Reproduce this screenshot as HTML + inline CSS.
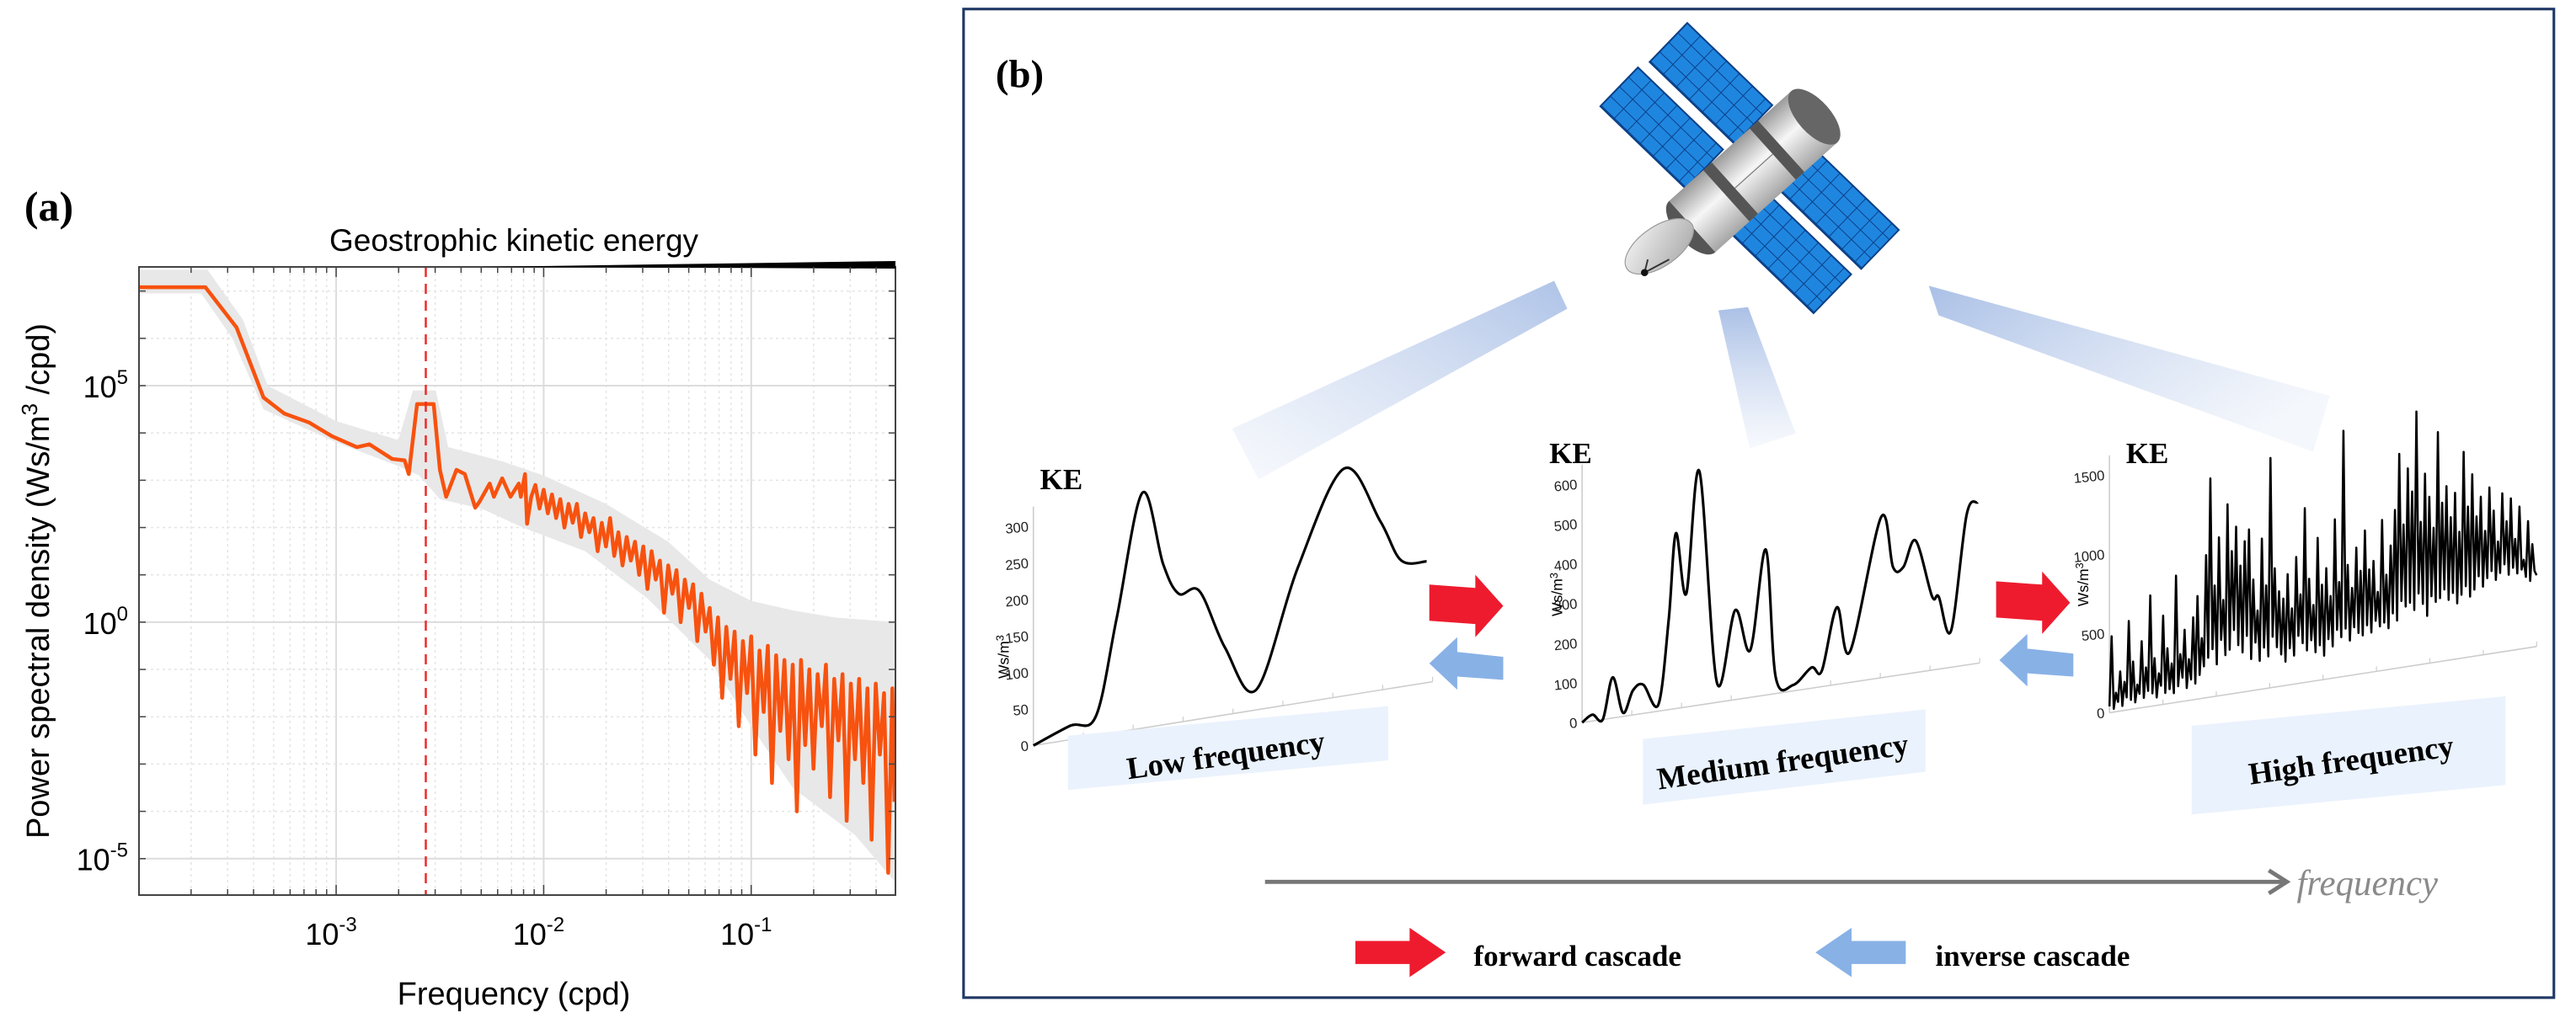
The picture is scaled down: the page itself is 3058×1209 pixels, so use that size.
<!DOCTYPE html>
<html><head><meta charset="utf-8"><style>
html,body{margin:0;padding:0;background:#fff;}
svg{display:block;}
</style></head><body>
<svg id="fig" xmlns="http://www.w3.org/2000/svg" width="3058" height="1209" viewBox="0 0 3058 1209">
<defs>
<linearGradient id="beamL" x1="0" y1="1" x2="1" y2="0"><stop offset="0" stop-color="#c9d7ef" stop-opacity="0.15"/><stop offset="1" stop-color="#aac0e6" stop-opacity="0.95"/></linearGradient>
<linearGradient id="beamM" x1="0" y1="0" x2="0" y2="1"><stop offset="0" stop-color="#aac0e6"/><stop offset="1" stop-color="#c9d7ef" stop-opacity="0.15"/></linearGradient>
<linearGradient id="beamR" x1="0" y1="0" x2="1" y2="0.6"><stop offset="0" stop-color="#aac0e6"/><stop offset="1" stop-color="#c9d7ef" stop-opacity="0.2"/></linearGradient>
<linearGradient id="bodyG" x1="0" y1="0" x2="0" y2="1"><stop offset="0" stop-color="#9a9a9a"/><stop offset="0.45" stop-color="#f6f6f6"/><stop offset="1" stop-color="#a5a5a5"/></linearGradient>
<linearGradient id="dishG" x1="0" y1="0" x2="1" y2="1"><stop offset="0" stop-color="#f4f4f4"/><stop offset="1" stop-color="#a8a8a8"/></linearGradient>
<pattern id="cells" width="11" height="8" patternUnits="userSpaceOnUse"><rect width="11" height="8" fill="#1f86e0"/><path d="M0 0H11M0 0V8" stroke="#0b3f86" stroke-width="1"/></pattern>
</defs>

<!-- PANEL A -->
<g id="panelA">
<text x="58" y="262" font-family="Liberation Serif, serif" font-weight="bold" font-size="50" text-anchor="middle">(a)</text>
<text x="610" y="298" font-family="Liberation Sans, sans-serif" font-size="37" text-anchor="middle">Geostrophic kinetic energy</text>
<g id="gridA"></g>
<g id="bandA"></g>
<g id="lineA"></g>
<g id="axesA"></g>
<text transform="translate(58,690) rotate(-90)" font-family="Liberation Sans, sans-serif" font-size="38" text-anchor="middle">Power spectral density (Ws/m<tspan dy="-14" font-size="26">3</tspan><tspan dy="14"> /cpd)</tspan></text>
<text x="610" y="1193" font-family="Liberation Sans, sans-serif" font-size="38" text-anchor="middle">Frequency (cpd)</text>
</g>

<!-- PANEL B -->
<g id="panelB" transform="scale(1.9503)">
<rect x="586.5" y="5.5" width="968" height="602" fill="none" stroke="#203864" stroke-width="1.6"/>
<text x="606" y="53" font-family="Liberation Serif, serif" font-weight="bold" font-size="24">(b)</text>

<polygon points="750,261 766,292 954,188 946,171" fill="url(#beamL)"/>
<polygon points="1046,189 1064,187 1093,264 1065,273" fill="url(#beamM)"/>
<polygon points="1174,174 1180,192 1408,275 1418,241" fill="url(#beamR)"/>

<g id="satellite">
 <g transform="translate(1027,14) rotate(44)"><rect width="72" height="33" fill="url(#cells)" stroke="#0b3f86"/></g>
 <g transform="translate(997,41) rotate(44)"><rect width="72" height="33" fill="url(#cells)" stroke="#0b3f86"/></g>
 <g transform="translate(1104,90) rotate(44)"><rect width="72" height="33" fill="url(#cells)" stroke="#0b3f86"/></g>
 <g transform="translate(1075,117) rotate(44)"><rect width="72" height="33" fill="url(#cells)" stroke="#0b3f86"/></g>
 <g transform="translate(1030,138) rotate(-42)">
  <ellipse cx="0" cy="0" rx="10" ry="21" fill="#555"/>
  <rect x="0" y="-21" width="100" height="42" fill="url(#bodyG)"/>
  <rect x="28" y="-21" width="7" height="42" fill="#555"/>
  <rect x="66" y="-21" width="7" height="42" fill="#555"/>
  <line x1="35" y1="0" x2="66" y2="0" stroke="#777" stroke-width="0.6"/>
  <ellipse cx="100" cy="0" rx="10" ry="21" fill="#666"/>
 </g>
 <g transform="translate(1010,150) rotate(-35)">
  <ellipse cx="0" cy="0" rx="24" ry="12" fill="url(#dishG)" stroke="#999" stroke-width="0.6"/>
 </g>
 <line x1="1003" y1="158" x2="1001" y2="166" stroke="#333" stroke-width="1"/>
 <line x1="1016" y1="158" x2="1001" y2="166" stroke="#333" stroke-width="1"/>
 <circle cx="1001" cy="166" r="2.2" fill="#111"/>
</g>

<g id="miniCharts"></g>

<polygon points="650,448 845,430 845,463 650,481" fill="#eaf2fd"/>
<text transform="translate(747,466) rotate(-8)" font-family="Liberation Serif, serif" font-weight="bold" font-size="19" text-anchor="middle">Low frequency</text>
<polygon points="1000,450 1172,432 1172,470 1000,490" fill="#eaf2fd"/>
<text transform="translate(1086,470) rotate(-8)" font-family="Liberation Serif, serif" font-weight="bold" font-size="19" text-anchor="middle">Medium frequency</text>
<polygon points="1334,442 1525,424 1525,478 1334,496" fill="#eaf2fd"/>
<text transform="translate(1432,469) rotate(-8)" font-family="Liberation Serif, serif" font-weight="bold" font-size="19" text-anchor="middle">High frequency</text>

<g><polygon points="870,356 898,358 898,350 915,369 898,388 898,380 870,378" fill="#ee1b2e"/></g>
<g><polygon points="915,400 887,397 887,388 870,404 887,420 887,412 915,414" fill="#88b1e6"/></g>
<g><polygon points="1215,354 1243,356 1243,348 1260,367 1243,386 1243,378 1215,376" fill="#ee1b2e"/></g>
<g><polygon points="1262,398 1234,395 1234,386 1217,402 1234,418 1234,410 1262,412" fill="#88b1e6"/></g>

<g>
 <line x1="770" y1="537" x2="1390" y2="537" stroke="#777" stroke-width="2.5"/>
 <polyline points="1381,530 1392,537 1381,544" fill="none" stroke="#777" stroke-width="2.5"/>
</g>
<text x="1398" y="545" font-family="Liberation Serif, serif" font-style="italic" font-size="22" fill="#8a8a8a">frequency</text>

<g>
 <polygon points="825,573 858,573 858,565 880,580 858,595 858,587 825,587" fill="#ee1b2e"/>
 <text x="897" y="588" font-family="Liberation Serif, serif" font-weight="bold" font-size="18">forward cascade</text>
 <polygon points="1160,573 1127,573 1127,565 1105,580 1127,595 1127,587 1160,587" fill="#88b1e6"/>
 <text x="1178" y="588" font-family="Liberation Serif, serif" font-weight="bold" font-size="18">inverse cascade</text>
</g>
</g>
</svg>
<script>
// ---------- Panel (a) data: log10 values ----------
const psdFreqExp = [-3.95,-3.63,-3.48,-3.35,-3.25,-3.13,-3.02,-2.90,-2.84,-2.73,-2.67,-2.65,-2.61,-2.53,-2.50,-2.47,-2.42,-2.38,-2.33,-2.31,-2.26,-2.24,-2.20,-2.16,-2.12,-2.11,-2.09,-2.08,-2.06,
-2.04,-2.02,-2.00,-1.98,-1.96,-1.94,-1.92,-1.90,-1.88,-1.86,-1.84,-1.82,-1.80,-1.78,-1.76,-1.74,-1.72,-1.70,-1.68,-1.66,-1.64,-1.62,-1.60,-1.58,-1.56,-1.54,-1.52,-1.50,-1.48,-1.46,-1.44,-1.42,-1.40,-1.38,-1.36,-1.34,-1.32,-1.30,-1.28,-1.26,-1.24,-1.22,-1.20,-1.18,-1.16,-1.14,-1.12,-1.10,-1.08,-1.06,-1.04,-1.02,-1.00,-0.98,-0.96,-0.94,-0.92,-0.90,-0.88,-0.86,-0.84,-0.82,-0.80,-0.78,-0.76,-0.74,-0.72,-0.70,-0.68,-0.66,-0.64,-0.62,-0.60,-0.58,-0.56,-0.54,-0.52,-0.50,-0.48,-0.46,-0.44,-0.42,-0.40,-0.38,-0.36,-0.34,-0.32,-0.31];
const psdValueExp = [7.08,7.08,6.23,4.75,4.41,4.22,3.93,3.70,3.76,3.45,3.42,3.13,4.61,4.61,3.22,2.65,3.22,3.13,2.42,2.54,2.93,2.65,3.04,2.65,2.93,2.65,3.13,2.08,2.65,
2.9,2.4,2.8,2.3,2.7,2.2,2.6,2.0,2.5,2.1,2.5,1.8,2.3,1.9,2.2,1.5,2.1,1.6,2.2,1.4,1.9,1.2,1.8,1.3,1.7,1.0,1.6,0.7,1.5,0.9,1.3,0.2,1.2,0.6,1.1,0.0,0.9,0.3,0.8,-0.4,0.6,-0.2,0.3,-0.9,0.1,-1.6,-0.1,-1.2,-0.2,-2.2,-0.4,-1.5,-0.3,-2.8,-0.6,-1.9,-0.5,-3.4,-0.7,-2.3,-0.8,-2.9,-0.9,-4.0,-0.8,-2.6,-1.0,-3.1,-1.1,-2.2,-0.9,-3.7,-1.2,-2.5,-1.1,-4.2,-1.3,-2.9,-1.2,-3.4,-1.4,-4.6,-1.3,-2.8,-1.5,-5.3,-1.4,-3.8];
const bandUpperFreqExp = [-3.95,-3.62,-3.45,-3.33,-3.00,-2.70,-2.63,-2.52,-2.46,-2.20,-2.00,-1.70,-1.40,-1.20,-1.00,-0.80,-0.60,-0.305];
const bandUpperExp = [7.45,7.45,6.4,5.0,4.25,3.85,4.9,4.9,3.7,3.4,3.1,2.5,1.7,0.9,0.45,0.25,0.1,0.0];
const bandLowerFreqExp = [-3.95,-3.65,-3.50,-3.35,-3.00,-2.70,-2.60,-2.50,-2.30,-2.10,-1.80,-1.50,-1.20,-1.00,-0.80,-0.50,-0.305];
const bandLowerExp = [6.95,6.95,6.0,4.5,3.8,3.3,3.1,2.6,2.4,2.0,1.5,0.5,-0.8,-2.2,-3.5,-4.5,-5.5];
const xTickExp = [-3,-2,-1];
const yTickExp = [5,0,-5];
const peakFreqExp = -2.568;

// ---------- Panel (b) data ----------
const lowT = [0,0.92,1.57,2.09,2.73,3.25,3.64,4.16,4.80,5.59,6.62,7.78,8.69,9.21,9.85];
const lowKE = [0,19,27,157,322,220,176,175,92,28,185,311,231,173,166];
const lowTicks = [0,50,100,150,200,250,300];
const medT = [0,0.26,0.52,0.77,1.03,1.28,1.54,1.92,2.18,2.36,2.62,2.95,3.39,3.85,4.23,4.62,4.87,5.31,5.77,6.03,6.41,6.74,7.52,7.82,8.08,8.39,8.80,8.97,9.28,9.67,9.95];
const medKE = [0,16,0,102,9,62,72,17,228,441,285,588,50,225,119,366,41,15,52,40,194,78,404,274,270,332,186,182,92,377,405];
const medTicks = [0,100,200,300,400,500,600];
const highKE = [40,480,20,120,60,250,30,180,80,560,60,300,40,150,90,420,60,250,100,700,
80,300,50,200,120,560,70,350,90,250,60,800,100,300,150,450,80,260,130,520,
100,650,150,380,200,900,250,1380,300,700,200,1000,350,600,250,1200,280,900,400,1050,
300,800,250,950,350,1020,200,700,300,500,180,950,260,650,200,1450,320,750,250,600,
200,550,150,700,230,480,180,800,300,560,250,1100,200,650,260,480,180,900,220,600,
150,700,250,520,200,1000,300,600,250,1550,300,700,220,550,300,800,260,650,240,900,
300,650,250,700,320,500,280,950,300,600,260,780,350,1000,300,1350,420,900,380,1250,
400,1100,350,1600,450,900,380,1200,300,1050,420,850,380,1450,400,1000,450,1100,380,900,
420,1050,350,800,400,1300,450,950,380,1150,420,880,500,1000,430,780,480,1050,520,900,
460,700,500,1000,550,820,480,960,520,700,480,900,500,560,450,800,420,650,480,450];
const highTicks = [0,500,1000,1500];

const NS = 'http://www.w3.org/2000/svg';
function mk(tag, attrs, parent){const e=document.createElementNS(NS,tag);for(const k in attrs)e.setAttribute(k,attrs[k]);parent.appendChild(e);return e;}

// Panel (a) axes
const PX0=165, PX1=1063, PY0=317, PY1=1063, XMIN=-3.95, XMAX=-0.305, YMAX=7.51, YMIN=-5.77;
function xS(e){return PX0+(e-XMIN)/(XMAX-XMIN)*(PX1-PX0);}
function yS(v){return PY0+(YMAX-v)/(YMAX-YMIN)*(PY1-PY0);}

const grid=document.getElementById('gridA');
for(let d=-4; d<=-1; d++){
  for(let k=1;k<=9;k++){
    const e=d+Math.log10(k);
    if(e<XMIN||e>XMAX) continue;
    const l=mk('line',{x1:xS(e),x2:xS(e),y1:PY0,y2:PY1,stroke:k===1?'#dcdcdc':'#e4e4e4','stroke-width':k===1?2:1.5,'stroke-dasharray':k===1?'none':'3,4'},grid);
    
    
  }
}
for(let v=-5; v<=7; v++){
  const l=mk('line',{x1:PX0,x2:PX1,y1:yS(v),y2:yS(v),stroke:v%5===0?'#dcdcdc':'#e4e4e4','stroke-width':v%5===0?2:1.5,'stroke-dasharray':v%5===0?'none':'3,4'},grid);
  
  
}

// band
const band=document.getElementById('bandA');
let bp=bandUpperFreqExp.map((f,i)=>xS(f)+','+yS(bandUpperExp[i]));
for(let i=bandLowerFreqExp.length-1;i>=0;i--) bp.push(xS(bandLowerFreqExp[i])+','+yS(bandLowerExp[i]));
const bpoly=mk('polygon',{points:bp.join(' '),fill:'#e8e8e8'},band);



// line
const lineG=document.getElementById('lineA');
const lp=psdFreqExp.map((f,i)=>xS(f)+','+yS(psdValueExp[i])).join(' ');
const pl=mk('polyline',{points:lp,fill:'none',stroke:'#f7520f','stroke-width':4.5,'stroke-linejoin':'round'},lineG);


const dl=mk('line',{x1:xS(peakFreqExp),x2:xS(peakFreqExp),y1:PY0,y2:PY1,stroke:'#ee2a2a','stroke-width':2.5,'stroke-dasharray':'12,8'},lineG);



// axes frame and ticks
const ax=document.getElementById('axesA');
const fr=mk('rect',{x:PX0,y:PY0,width:PX1-PX0,height:PY1-PY0,fill:'none',stroke:'#444','stroke-width':2},ax);


const wedge=mk('polygon',{points:`${xS(-2.3)},${PY0} ${PX1},${PY0-7} ${PX1},${PY0+2}`,fill:'#000'},ax);


for(let d=-4; d<=-1; d++){
  for(let k=1;k<=9;k++){
    const e=d+Math.log10(k);
    if(e<XMIN||e>XMAX) continue;
    const len=k===1?12:7;
    mk('line',{x1:xS(e),x2:xS(e),y1:PY1,y2:PY1-len,stroke:'#444','stroke-width':1.5},ax);
    mk('line',{x1:xS(e),x2:xS(e),y1:PY0,y2:PY0+len,stroke:'#444','stroke-width':1.5},ax);
  }
}
for(let v=-5; v<=7; v++){
  mk('line',{x1:PX0,x2:PX0+8,y1:yS(v),y2:yS(v),stroke:'#444','stroke-width':1.5},ax);
  mk('line',{x1:PX1,x2:PX1-8,y1:yS(v),y2:yS(v),stroke:'#444','stroke-width':1.5},ax);
}
xTickExp.forEach(e=>{
  const t=mk('text',{x:xS(e)-6,y:1122,'font-family':'Liberation Sans, sans-serif','font-size':36,'text-anchor':'middle'},ax);
  
  
  t.innerHTML='10<tspan dy="-16" font-size="24">'+e+'</tspan>';
});
yTickExp.forEach(v=>{
  const t=mk('text',{x:152,y:yS(v)+14,'font-family':'Liberation Sans, sans-serif','font-size':36,'text-anchor':'end'},ax);
  
  
  t.innerHTML='10<tspan dy="-16" font-size="24">'+v+'</tspan>';
});

// Panel (b) mini charts
const mini=document.getElementById('miniCharts');
function smoothPath(pts){
  let d='M'+pts[0][0]+','+pts[0][1];
  for(let i=0;i<pts.length-1;i++){
    const p0=pts[i-1]||pts[i],p1=pts[i],p2=pts[i+1],p3=pts[i+2]||p2;
    const c1=[p1[0]+(p2[0]-p0[0])/6,p1[1]+(p2[1]-p0[1])/6];
    const c2=[p2[0]-(p3[0]-p1[0])/6,p2[1]-(p3[1]-p1[1])/6];
    d+=` C${c1[0]},${c1[1]} ${c2[0]},${c2[1]} ${p2[0]},${p2[1]}`;
  }
  return d;
}
function drawMini(cfg, tArr, vArr, ticks, smooth, name){
  const g=mk('g',{},mini);
  
  
  const X=t=>cfg.x0+t/10*cfg.w;
  const Y=(t,v)=>cfg.y0+cfg.slope*(X(t)-cfg.x0)-v*cfg.k;
  const top=ticks[ticks.length-1];
  mk('line',{x1:cfg.x0,y1:cfg.y0,x2:cfg.x0,y2:cfg.y0-top*cfg.k-12,stroke:'#ccc','stroke-width':0.8},g);
  mk('line',{x1:cfg.x0,y1:cfg.y0,x2:cfg.x0+cfg.w,y2:cfg.y0+cfg.slope*cfg.w,stroke:'#ccc','stroke-width':0.8},g);
  for(let i=1;i<=8;i++){const x=cfg.x0+cfg.w*i/8, y=cfg.y0+cfg.slope*cfg.w*i/8; mk('line',{x1:x,x2:x,y1:y,y2:y-3,stroke:'#ccc','stroke-width':0.6},g);}
  ticks.forEach(v=>{
    const t=mk('text',{x:cfg.x0-3,y:cfg.y0-v*cfg.k+3,'font-family':'Liberation Sans, sans-serif','font-size':8.5,'text-anchor':'end',fill:'#222',transform:`rotate(-6 ${cfg.x0-3} ${cfg.y0-v*cfg.k})`},g);
    
    
    t.textContent=v;
  });
  const pts=vArr.map((v,i)=>[X(tArr[i]),Y(tArr[i],v)]);
  const p=mk('path',{d:smooth?smoothPath(pts):'M'+pts.map(q=>q.join(',')).join(' L'),fill:'none',stroke:'#000','stroke-width':smooth?1.6:1.3,'stroke-linejoin':'round'},g);
  
  
  const ke=mk('text',{x:cfg.keX,y:cfg.keY,'font-family':'Liberation Serif, serif','font-weight':'bold','font-size':18},g);
  
  
  ke.textContent='KE';
  const u=mk('text',{transform:`translate(${cfg.ux},${cfg.uy}) rotate(-90)`,'font-family':'Liberation Sans, sans-serif','font-size':9,'text-anchor':'middle'},g);
  
  
  u.innerHTML='Ws/m<tspan dy="-3" font-size="6.5">3</tspan>';
}
drawMini({x0:629,y0:454,w:243,slope:-0.16,k:0.445,keX:633,keY:298,ux:614,uy:400},lowT,lowKE,lowTicks,true,'low-frequency-chart');
drawMini({x0:963,y0:440,w:242,slope:-0.15,k:0.242,keX:943,keY:282,ux:951,uy:362},medT,medKE,medTicks,true,'medium-frequency-chart');
const highT=highKE.map((v,i)=>i*10/(highKE.length-1));
drawMini({x0:1284,y0:434,w:260,slope:-0.155,k:0.0965,keX:1294,keY:282,ux:1271,uy:356},highT,highKE,highTicks,false,'high-frequency-chart');
</script>
</body></html>
